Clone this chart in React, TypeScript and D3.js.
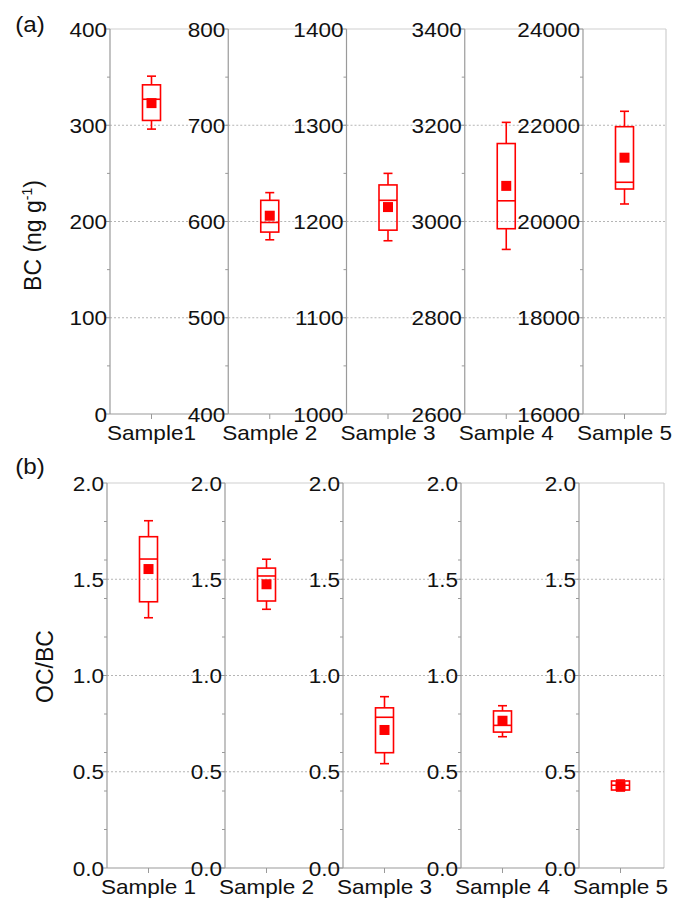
import React from 'react';
import * as d3 from 'd3';

// panel (a): BC, one y scale per sample
const bcSamples = ['Sample1', 'Sample 2', 'Sample 3', 'Sample 4', 'Sample 5'];
const bcDomains = [[0, 400], [400, 800], [1000, 1400], [2600, 3400], [16000, 24000]];
const bcMin = [296, 581, 1180, 2942, 20364];
const bcQ1 = [305, 589, 1191, 2985, 20675];
const bcMedian = [327, 599, 1222, 3043, 20815];
const bcMean = [323, 606, 1215, 3074, 21326];
const bcQ3 = [342, 622, 1238, 3162, 21970];
const bcMax = [351, 630, 1250, 3206, 22290];

// panel (b): OC/BC
const ocbcSamples = ['Sample 1', 'Sample 2', 'Sample 3', 'Sample 4', 'Sample 5'];
const ocbcDomain = [0, 2];
const ocbcMin = [1.30, 1.344, 0.542, 0.682, 0.40];
const ocbcQ1 = [1.383, 1.387, 0.599, 0.706, 0.405];
const ocbcMedian = [1.605, 1.517, 0.783, 0.741, 0.43];
const ocbcMean = [1.553, 1.474, 0.717, 0.765, 0.425];
const ocbcQ3 = [1.721, 1.558, 0.832, 0.816, 0.452];
const ocbcMax = [1.804, 1.604, 0.890, 0.843, 0.457];

const RED = '#ff0000';
const AXIS = '#9a9a9a';
const FRAME = '#cfcfcf';
const FONT = '"Liberation Sans", Arial, Helvetica, sans-serif';
const SX = 1.1; // text looks slightly stretched sideways

const Label = ({ x, y, anchor = 'middle', size = 20.5, children }: any) => (
  <text
    transform={`translate(${x},${y}) scale(${SX},1)`}
    textAnchor={anchor}
    fontSize={size}
    fontFamily={FONT}
    fill="#111"
  >
    {children}
  </text>
);

const Row = ({ samples, domains, stats, left, step, lastWidth, y0, y1, fmt }: any) => {
  const n = samples.length;
  const rightEnd = left + step * (n - 1) + lastWidth;
  return (
    <g>
      {/* frame: top line and right border */}
      <line x1={left} x2={rightEnd} y1={y1} y2={y1} stroke={FRAME} strokeWidth={1.2} />
      <line x1={rightEnd} x2={rightEnd} y1={y1} y2={y0} stroke={FRAME} strokeWidth={1.2} />
      {samples.map((s: string, i: number) => {
        const x0 = left + i * step;
        const xEnd = i < n - 1 ? left + (i + 1) * step : rightEnd;
        const y = d3.scaleLinear().domain(domains[i]).range([y0, y1]);
        const x = d3.scaleBand().domain([s]).range([x0, x0 + 83]);
        const cx = (x(s) as number) + x.bandwidth() / 2;
        const major = y.ticks(4);
        const minor = y.ticks(8).filter((t) => !major.includes(t));
        const bw = 18, cap = 9, ms = 10;
        const st = stats.map((a: number[]) => a[i]);
        const [mn, q1, med, mean, q3, mx] = st;
        return (
          <g key={s}>
            {major.slice(1, -1).map((t) => (
              <line key={'g' + t} x1={x0} x2={xEnd} y1={y(t)} y2={y(t)}
                stroke="#b5b5b5" strokeDasharray="2,2" strokeWidth={1} />
            ))}
            <line x1={x0} x2={xEnd} y1={y0} y2={y0} stroke={AXIS} strokeWidth={1.2} />
            <line x1={x0} x2={x0} y1={y0} y2={y1} stroke={AXIS} strokeWidth={1.2} />
            {major.map((t) => (
              <g key={'t' + t}>
                <line x1={x0 - 4} x2={x0} y1={y(t)} y2={y(t)} stroke={AXIS} strokeWidth={1} />
                <Label x={x0 - 3} y={y(t) + 7.5} anchor="end">{fmt(t)}</Label>
              </g>
            ))}
            {minor.map((t) => (
              <line key={'m' + t} x1={x0 - 3} x2={x0} y1={y(t)} y2={y(t)} stroke={AXIS} strokeWidth={1} />
            ))}
            <line x1={cx} x2={cx} y1={y0} y2={y0 + 5} stroke={AXIS} strokeWidth={1} />
            <Label x={cx} y={y0 + 26}>{s}</Label>
            {/* box plot */}
            <g stroke={RED} strokeWidth={1.6} fill="none">
              <line x1={cx} x2={cx} y1={y(mx)} y2={y(q3)} />
              <line x1={cx} x2={cx} y1={y(q1)} y2={y(mn)} />
              <line x1={cx - cap / 2} x2={cx + cap / 2} y1={y(mx)} y2={y(mx)} />
              <line x1={cx - cap / 2} x2={cx + cap / 2} y1={y(mn)} y2={y(mn)} />
              <rect x={cx - bw / 2} y={y(q3)} width={bw} height={y(q1) - y(q3)} />
              <line x1={cx - bw / 2} x2={cx + bw / 2} y1={y(med)} y2={y(med)} />
            </g>
            <rect x={cx - ms / 2} y={y(mean) - ms / 2} width={ms} height={ms} fill={RED} />
          </g>
        );
      })}
    </g>
  );
};

export default function App() {
  // svg sits at (8,8) because of the body margin
  const top = { y0: 406, y1: 21 };
  const bot = { y0: 860, y1: 475 };
  return (
    <svg width={665} height={890} style={{ display: 'block' }}>
      <Label x={22} y={24} size={22}>(a)</Label>
      <Label x={22} y={466} size={22}>(b)</Label>
      <Row
        samples={bcSamples}
        domains={bcDomains}
        stats={[bcMin, bcQ1, bcMedian, bcMean, bcQ3, bcMax]}
        left={102} step={118.25} lastWidth={83}
        y0={top.y0} y1={top.y1}
        fmt={d3.format('d')}
      />
      <Row
        samples={ocbcSamples}
        domains={ocbcSamples.map(() => ocbcDomain)}
        stats={[ocbcMin, ocbcQ1, ocbcMedian, ocbcMean, ocbcQ3, ocbcMax]}
        left={99} step={118} lastWidth={85}
        y0={bot.y0} y1={bot.y1}
        fmt={d3.format('.1f')}
      />
      <text transform={`translate(33,${(top.y0 + top.y1) / 2 + 14}) rotate(-90)`}
        textAnchor="middle" fontSize={23} fontFamily={FONT} fill="#111">
        BC (ng g<tspan fontSize={14} dy={-9}>-1</tspan><tspan dy={9}>)</tspan>
      </text>
      <text transform={`translate(45,${(bot.y0 + bot.y1) / 2 - 9}) rotate(-90)`}
        textAnchor="middle" fontSize={23} fontFamily={FONT} fill="#111">
        OC/BC
      </text>
    </svg>
  );
}
